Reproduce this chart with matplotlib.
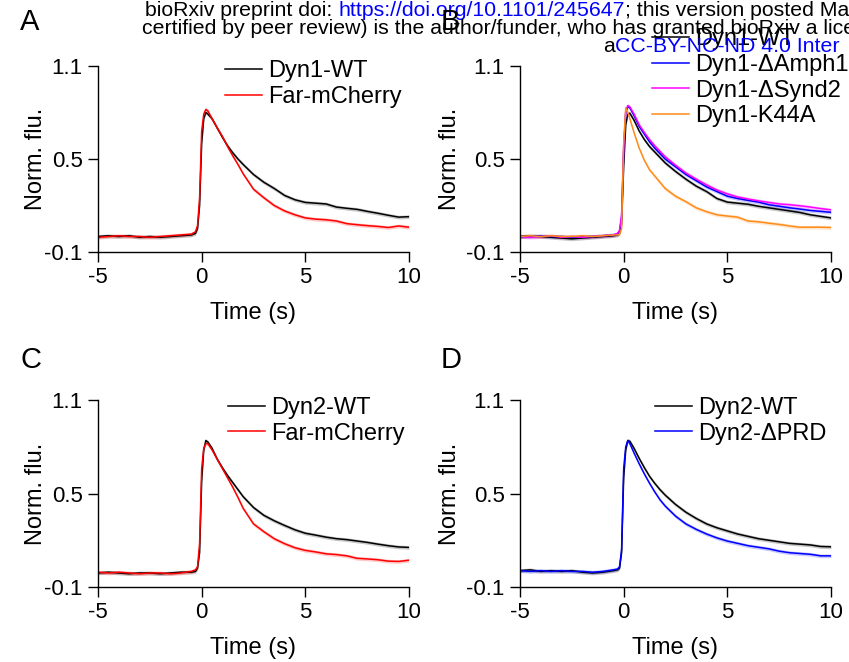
import matplotlib
matplotlib.use("Agg")
import matplotlib.pyplot as plt

plt.rcParams['font.family'] = ['Liberation Sans', 'DejaVu Sans']
plt.rcParams['axes.unicode_minus'] = False

# time axis (s), shared by all traces
t = [-5, -4.5, -4, -3.5, -3, -2.5, -2, -1.5, -1, -0.5,
     -0.3, -0.2, -0.1, 0.0, 0.1, 0.2, 0.3,
     0.5, 0.75, 1.0, 1.25, 1.5, 1.75, 2.0,
     2.5, 3.0, 3.5, 4.0, 4.5, 5.0, 5.5, 6.0, 6.5, 7.0, 7.5, 8.0, 8.5, 9.0, 9.5, 10.0]

# panel A
a_dyn1_wt = [0.0, 0.005, 0.0, 0.005, -0.005, 0.0, -0.005, 0.0, 0.005, 0.01,
             0.02, 0.05, 0.20, 0.60, 0.76, 0.80, 0.79,
             0.76, 0.70, 0.64, 0.585, 0.54, 0.50, 0.465,
             0.40, 0.35, 0.31, 0.265, 0.237, 0.22, 0.215, 0.21, 0.19, 0.182, 0.175, 0.162, 0.15, 0.137, 0.125, 0.128]
a_far = [-0.005, 0.0, 0.005, 0.0, 0.0, -0.005, 0.0, 0.005, 0.01, 0.015,
         0.03, 0.07, 0.25, 0.68, 0.79, 0.82, 0.81,
         0.76, 0.70, 0.645, 0.58, 0.52, 0.465, 0.405,
         0.305, 0.25, 0.20, 0.165, 0.14, 0.12, 0.112, 0.108, 0.10, 0.083, 0.076, 0.07, 0.065, 0.058, 0.068, 0.06]

# panel B
b_dyn1_wt = [0.0, 0.005, 0.0, -0.005, -0.01, -0.015, -0.01, -0.005, 0.0, 0.005,
             0.01, 0.02, 0.08, 0.45, 0.72, 0.79, 0.795,
             0.75, 0.68, 0.625, 0.58, 0.545, 0.51, 0.475,
             0.42, 0.37, 0.325, 0.29, 0.245, 0.222, 0.215, 0.208, 0.195, 0.185, 0.175, 0.165, 0.155, 0.14, 0.13, 0.12]
b_amph1 = [0.0, 0.0, 0.005, 0.0, 0.0, -0.005, 0.0, 0.0, 0.005, 0.01,
           0.015, 0.03, 0.12, 0.55, 0.80, 0.84, 0.83,
           0.78, 0.71, 0.66, 0.61, 0.57, 0.535, 0.50,
           0.45, 0.40, 0.36, 0.32, 0.29, 0.26, 0.245, 0.233, 0.222, 0.205, 0.195, 0.185, 0.177, 0.168, 0.162, 0.156]
b_synd2 = [0.0, -0.005, 0.0, 0.005, -0.005, 0.0, -0.005, 0.0, 0.005, 0.01,
           0.02, 0.04, 0.14, 0.58, 0.81, 0.845, 0.835,
           0.79, 0.72, 0.67, 0.625, 0.585, 0.55, 0.515,
           0.46, 0.41, 0.37, 0.333, 0.30, 0.275, 0.255, 0.242, 0.23, 0.22, 0.21, 0.205, 0.198, 0.19, 0.18, 0.172]
b_k44a = [0.0, 0.005, 0.0, 0.005, 0.0, 0.0, 0.005, 0.0, 0.005, 0.01,
          0.01, 0.015, 0.05, 0.60, 0.83, 0.80, 0.76,
          0.67, 0.57, 0.49, 0.43, 0.39, 0.35, 0.31,
          0.26, 0.225, 0.185, 0.16, 0.14, 0.132, 0.125, 0.10, 0.095, 0.086, 0.078, 0.068, 0.06, 0.06, 0.06, 0.058]

# panel C
c_dyn2_wt = [-0.01, -0.005, -0.01, -0.015, -0.01, -0.01, -0.015, -0.01, -0.005, -0.005,
             0.0, 0.02, 0.12, 0.58, 0.78, 0.84, 0.83,
             0.79, 0.72, 0.665, 0.615, 0.57, 0.525, 0.48,
             0.41, 0.36, 0.325, 0.295, 0.267, 0.245, 0.233, 0.22, 0.21, 0.204, 0.195, 0.186, 0.175, 0.165, 0.157, 0.154]
c_far = [-0.005, -0.01, -0.005, -0.01, -0.015, -0.01, -0.01, -0.015, -0.01, 0.0,
         0.01, 0.03, 0.18, 0.66, 0.79, 0.82, 0.82,
         0.78, 0.72, 0.66, 0.60, 0.54, 0.475, 0.405,
         0.305, 0.255, 0.21, 0.178, 0.152, 0.135, 0.125, 0.113, 0.108, 0.10, 0.084, 0.08, 0.075, 0.066, 0.064, 0.072]

# panel D
d_dyn2_wt = [0.005, 0.01, 0.0, 0.005, 0.0, 0.005, -0.005, -0.01, -0.005, 0.005,
             0.01, 0.02, 0.12, 0.60, 0.78, 0.84, 0.835,
             0.79, 0.725, 0.665, 0.61, 0.565, 0.525, 0.49,
             0.43, 0.38, 0.34, 0.305, 0.28, 0.26, 0.24, 0.225, 0.21, 0.20, 0.19, 0.18, 0.175, 0.17, 0.16, 0.158]
d_prd = [0.005, 0.0, 0.005, 0.0, 0.005, 0.0, 0.0, -0.005, 0.0, 0.01,
         0.015, 0.03, 0.14, 0.66, 0.80, 0.84, 0.82,
         0.76, 0.69, 0.625, 0.565, 0.51, 0.46, 0.42,
         0.355, 0.305, 0.27, 0.24, 0.215, 0.195, 0.18, 0.165, 0.155, 0.145, 0.13, 0.12, 0.115, 0.11, 0.10, 0.10]

# half-width of the shaded error band for each trace
sem = 0.012

BLACK = "black"
RED = "#ff0000"
BLUE = "#0000ff"
MAGENTA = "#ff00ff"
ORANGE = "#ff8c1a"

panels = {
    "A": [(a_dyn1_wt, BLACK, "Dyn1-WT"), (a_far, RED, "Far-mCherry")],
    "B": [(b_dyn1_wt, BLACK, "Dyn1-WT"), (b_amph1, BLUE, "Dyn1-ΔAmph1"),
          (b_synd2, MAGENTA, "Dyn1-ΔSynd2"), (b_k44a, ORANGE, "Dyn1-K44A")],
    "C": [(c_dyn2_wt, BLACK, "Dyn2-WT"), (c_far, RED, "Far-mCherry")],
    "D": [(d_dyn2_wt, BLACK, "Dyn2-WT"), (d_prd, BLUE, "Dyn2-ΔPRD")],
}

W, H = 849, 662
fig = plt.figure(figsize=(W / 100, H / 100), dpi=100)

# pixel boxes: left, top, right, bottom
boxes = {"A": (98, 66, 409, 252), "B": (520, 66, 831, 252),
         "C": (98, 400, 409, 587), "D": (520, 400, 831, 587)}
legend_anchor = {"A": (0.408, 1.030), "B": (0.424, 1.202),
                 "C": (0.418, 1.015), "D": (0.434, 1.015)}
ylab_x = {"A": -0.165, "B": -0.19, "C": -0.165, "D": -0.19}
letter_pos = {"A": (20, 22), "B": (441, 22), "C": (20, 360), "D": (441, 360)}

FS = 17
TS = 16

for key, series in panels.items():
    l, tp, r, b = boxes[key]
    ax = fig.add_axes([l / W, 1 - b / H, (r - l) / W, (b - tp) / H])
    for y, col, lab in series:
        lo = [v - sem for v in y]
        hi = [v + sem for v in y]
        ax.fill_between(t, lo, hi, color=col, alpha=0.22, linewidth=0)
        ax.plot(t, y, color=col, lw=1.1, label=lab)

    ax.set_xlim(-5, 10)
    ax.set_ylim(-0.1, 1.1)
    ax.set_xticks([-5, 0, 5, 10])
    ax.set_xticklabels(["-5", "0", "5", "10"])
    ax.set_yticks([-0.1, 0.5, 1.1])
    ax.set_yticklabels(["-0.1", "0.5", "1.1"])
    ax.spines["top"].set_visible(False)
    ax.spines["right"].set_visible(False)
    for s in ("left", "bottom"):
        ax.spines[s].set_linewidth(1.0)
    ax.tick_params(direction="out", length=7, width=1.0, labelsize=TS, pad=4)

    ax.set_xlabel("Time (s)", fontsize=FS)
    ax.xaxis.set_label_coords(0.5, -0.27)
    ax.set_ylabel("Norm. flu.", fontsize=FS)
    ax.yaxis.set_label_coords(ylab_x[key], 0.5)

    ax.legend(loc="upper left", bbox_to_anchor=legend_anchor[key], frameon=False,
              fontsize=FS, handlelength=1.57, handletextpad=0.25, labelspacing=0.15,
              borderpad=0, borderaxespad=0)

    lx, ly = letter_pos[key]
    fig.text(lx / W, 1 - ly / H, key, fontsize=21, ha="left", va="center")

# bioRxiv watermark across the top
HS = 15.3
t1 = fig.text(145 / W, 1 - 10 / H, "bioRxiv preprint doi: ", fontsize=HS, va="center")
a1 = fig.add_artist(plt.Annotation("https://doi.org/10.1101/245647", xy=(1, 0.5),
                                   xycoords=t1, va="center", fontsize=HS, color=BLUE))
fig.add_artist(plt.Annotation("; this version posted Ma", xy=(1, 0.5),
                              xycoords=a1, va="center", fontsize=HS))
fig.text(142 / W, 1 - 28 / H,
         "certified by peer review) is the author/funder, who has granted bioRxiv a lice",
         fontsize=HS, va="center")
t3 = fig.text(603 / W, 1 - 47 / H, "a", fontsize=HS, va="center")
fig.add_artist(plt.Annotation("CC-BY-NC-ND 4.0 Inter", xy=(1, 0.5), xycoords=t3,
                              va="center", fontsize=HS, color=BLUE))

fig.savefig("out.png", dpi=100)
